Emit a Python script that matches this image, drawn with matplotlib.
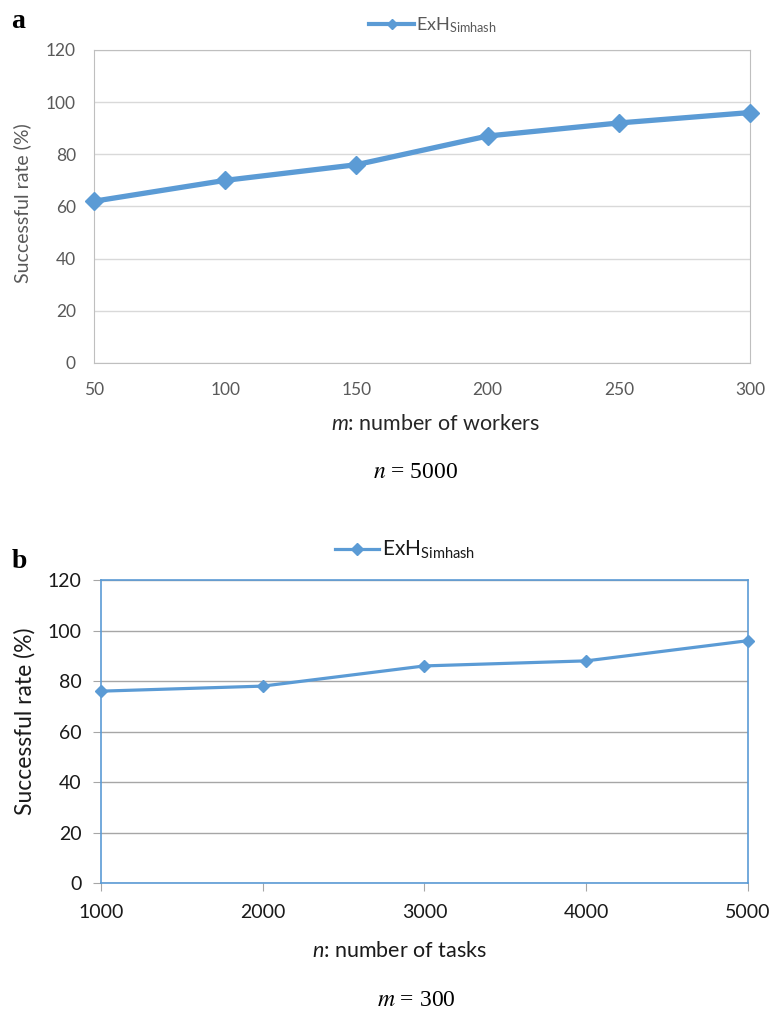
import matplotlib
matplotlib.use("Agg")
import matplotlib.pyplot as plt
from matplotlib.lines import Line2D

# panel a: success rate vs number of workers (n = 5000)
workers = [50, 100, 150, 200, 250, 300]
rate_workers = [62, 70, 76, 87, 92, 96]

# panel b: success rate vs number of tasks (m = 300)
tasks = [1000, 2000, 3000, 4000, 5000]
rate_tasks = [76, 78, 86, 88, 96]

yticks = [0, 20, 40, 60, 80, 100, 120]
series_name = r'ExH$_{\mathregular{Simhash}}$'

blue = "#5b9bd5"
plt.rcParams['font.family'] = ['Lato', 'DejaVu Sans']
plt.rcParams['mathtext.fontset'] = 'custom'
plt.rcParams['mathtext.it'] = 'Lato:italic'
plt.rcParams['mathtext.rm'] = 'Lato'

fig = plt.figure(figsize=(7.69, 10.15), dpi=100)

# ---- panel a
ax1 = fig.add_axes([0.1222, 0.6424, 0.8531, 0.3084])
ax1.plot(workers, rate_workers, color=blue, lw=3.8, marker='D', ms=9.5, clip_on=False, zorder=3)
ax1.set_xlim(workers[0], workers[-1])
ax1.set_ylim(0, 120)
ax1.set_xticks(workers)
ax1.set_yticks(yticks)
ax1.grid(axis='y', color='#d9d9d9', lw=1)
ax1.set_axisbelow(True)
for s in ax1.spines.values():
    s.set_color('#bfbfbf')
ax1.tick_params(length=0, labelsize=12.5, colors='#595959')
ax1.tick_params(axis='y', pad=13)
ax1.tick_params(axis='x', pad=14)
ax1.set_ylabel('Successful rate (%)', fontsize=14, color='#595959', va='center')
ax1.yaxis.set_label_coords(-0.110, 0.51)
ax1.set_xlabel(r'$m$: number of workers', fontsize=15.5, color='#262626', va='center')
ax1.xaxis.set_label_coords(0.52, -0.195)
h1 = Line2D([], [], color=blue, lw=3, marker='D', ms=5)
fig.legend([h1], [series_name], loc='center', bbox_to_anchor=(0.563, 0.9754),
           frameon=False, fontsize=13, handlelength=2.5, handletextpad=0.1,
           labelcolor='#595959')
fig.text(0.541, 0.534, r'$n$ = 5000', ha='center', va='center', fontsize=17,
         family='Liberation Serif', math_fontfamily='stix')
fig.text(0.015, 0.972, 'a', fontsize=20, fontweight='bold', family='Liberation Serif')

# ---- panel b
ax2 = fig.add_axes([0.1313, 0.1300, 0.8414, 0.2985])
ax2.plot(tasks, rate_tasks, color=blue, lw=2.3, marker='D', ms=6.5, clip_on=False, zorder=3)
ax2.set_xlim(tasks[0], tasks[-1])
ax2.set_ylim(0, 120)
ax2.set_xticks(tasks)
ax2.set_yticks(yticks)
ax2.grid(axis='y', color='#a6a6a6', lw=1)
ax2.set_axisbelow(True)
for s in ax2.spines.values():
    s.set_color(blue)
    s.set_linewidth(1.2)
ax2.tick_params(length=6, color='#a6a6a6', labelsize=14, labelcolor='#1a1a1a')
ax2.tick_params(axis='y', pad=8)
ax2.tick_params(axis='x', pad=9)
ax2.set_ylabel('Successful rate (%)', fontsize=16.5, color='#1a1a1a', va='center')
ax2.yaxis.set_label_coords(-0.117, 0.535)
ax2.set_xlabel(r'$n$: number of tasks', fontsize=15.5, color='#1a1a1a', va='center')
ax2.xaxis.set_label_coords(0.462, -0.224)
h2 = Line2D([], [], color=blue, lw=2.3, marker='D', ms=6)
fig.legend([h2], [series_name], loc='center', bbox_to_anchor=(0.527, 0.458),
           frameon=False, fontsize=15, handlelength=2.1, handletextpad=0.15,
           labelcolor='#1a1a1a')
fig.text(0.542, 0.0138, r'$m$ = 300', ha='center', va='center', fontsize=17,
         family='Liberation Serif', math_fontfamily='stix')
fig.text(0.015, 0.44, 'b', fontsize=20, fontweight='bold', family='Liberation Serif')

fig.savefig('out.png', dpi=100)
